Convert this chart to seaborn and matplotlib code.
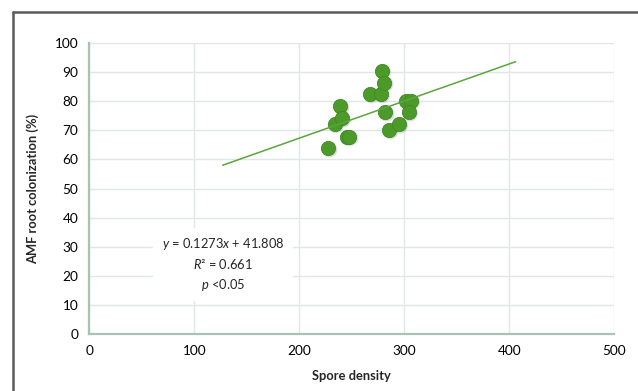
import matplotlib
matplotlib.use("Agg")
import matplotlib.pyplot as plt
import seaborn as sns
import pandas as pd
import numpy as np
from matplotlib.lines import Line2D

# ---- data ----
spore_density = [227.6, 233.7, 239.0, 240.4, 245.1, 247.6, 267.3, 277.5,
                 278.8, 281.0, 281.9, 285.7, 295.0, 301.6, 306.4, 304.2]
colonization = [63.8, 72.1, 78.2, 74.1, 67.8, 67.8, 82.3, 82.3,
                90.3, 86.3, 76.1, 70.0, 72.0, 80.1, 80.1, 76.1]
trend_slope = 0.1273
trend_intercept = 41.808
trend_x = [127, 406]
x_ticks = [0, 100, 200, 300, 400, 500]
y_ticks = [0, 10, 20, 30, 40, 50, 60, 70, 80, 90, 100]
eq_lines = [r"$\mathit{y}$ = 0.1273$\mathit{x}$ + 41.808",
            r"$\mathit{R}$² = 0.661",
            r"$\mathit{p}$ <0.05"]

sns.set_theme(style="white")
plt.rcParams['font.family'] = ['Lato', 'DejaVu Sans']
plt.rcParams['mathtext.fontset'] = 'custom'
plt.rcParams['mathtext.it'] = 'Lato:italic'
plt.rcParams['mathtext.rm'] = 'Lato'

df = pd.DataFrame({"x": spore_density, "y": colonization})
tx = np.array(trend_x, dtype=float)
tdf = pd.DataFrame({"x": tx, "y": trend_slope * tx + trend_intercept})

fig = plt.figure(figsize=(6.38, 3.91), dpi=100)
ax = fig.add_axes([0.140, 0.145, 0.8229, 0.7458])

ax.set_xlim(0, 500)
ax.set_ylim(0, 100)
ax.set_xticks(x_ticks)
ax.set_yticks(y_ticks)
ax.grid(True, color="#e0e7e6", linewidth=1.0)
ax.set_axisbelow(True)

# shadow of points
sns.scatterplot(data=df, x="x", y="y", ax=ax, s=120, color="#7f7f7f",
                alpha=0.25, edgecolor="none", legend=False, zorder=2,
                transform=ax.transData + matplotlib.transforms.ScaledTranslation(1.5/100, -1.5/100, fig.dpi_scale_trans))
sns.scatterplot(data=df, x="x", y="y", ax=ax, s=105, color="#4c9a2a",
                edgecolor="#3f8a22", linewidth=0.6, legend=False, zorder=3)
sns.lineplot(data=tdf, x="x", y="y", ax=ax, color="#5aa63a", linewidth=1.1,
             zorder=4)

for side in ["top", "right"]:
    ax.spines[side].set_visible(False)
for side in ["left", "bottom"]:
    ax.spines[side].set_color("#a9c3b3")
    ax.spines[side].set_linewidth(1.6)

ax.tick_params(axis="both", length=0, labelsize=9.8, colors="#000000", pad=8)
ax.set_xlabel("Spore density", fontsize=9.3, fontweight="bold", labelpad=9)
ax.set_ylabel("AMF root colonization (%)", fontsize=9.3, fontweight="bold",
              labelpad=11)

ax.text(0.2547, 0.240, "\n".join(eq_lines), transform=ax.transAxes,
        ha="center", va="center", fontsize=9.3, linespacing=1.45,
        bbox=dict(facecolor="white", edgecolor="none", pad=6), zorder=5)

# figure border (cropped chart frame)
fig.add_artist(Line2D([13/638, 13/638], [0, 1 - 12/391], color="#5a5a5a",
                      linewidth=1.8, transform=fig.transFigure))
fig.add_artist(Line2D([13/638, 1], [1 - 12/391, 1 - 12/391], color="#5a5a5a",
                      linewidth=1.8, transform=fig.transFigure))

fig.savefig("out.png", dpi=100)
